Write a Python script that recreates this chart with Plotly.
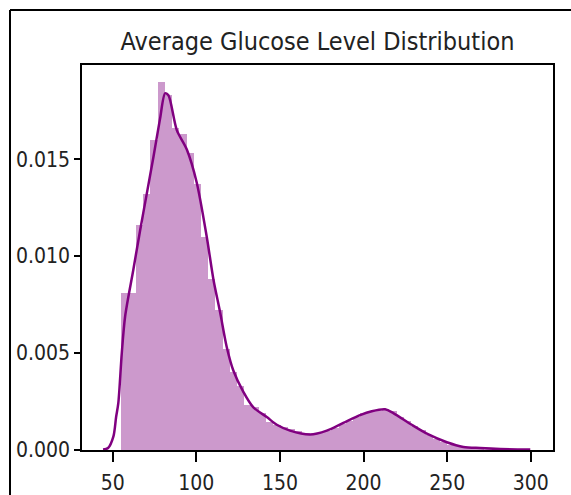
import plotly.graph_objects as go

# Histogram (density) – 50 equal bins from 55.12 to 271.74
bin_start = 55.12
bin_end = 271.74
bar_density = [
    0.0081, 0.0081, 0.0116, 0.0132, 0.0160, 0.0190, 0.0183, 0.0166, 0.0163, 0.0153,
    0.0137, 0.0110, 0.0088, 0.0072, 0.0052, 0.0040, 0.0033, 0.0023, 0.0022, 0.0019,
    0.00145, 0.0013, 0.0012, 0.0011, 0.0010, 0.0009, 0.0008, 0.0009, 0.0010, 0.00115,
    0.00135, 0.0015, 0.0017, 0.0019, 0.0020, 0.0020, 0.0021, 0.0020, 0.0017, 0.0015,
    0.00125, 0.00105, 0.00078, 0.00057, 0.00041, 0.00028, 0.0002, 0.00015, 0.0001, 0.00008,
]

# KDE curve
kde_x = [44.2, 47.2, 50.4, 52.0, 53.3, 55.4, 57.4, 62.3, 66.3, 70.3, 74.3, 78.3, 81.3,
         83.3, 88.3, 94.3, 100.2, 106.2, 110.2, 114.2, 118.2, 122.1, 128.1, 134.1, 142.1,
         148.1, 156.0, 168.0, 178.0, 187.9, 197.9, 204.9, 212.9, 217.8, 228.8, 238.8,
         249.8, 259.7, 269.7, 281.8, 299.7]
kde_y = [0.00002, 0.0001, 0.0007, 0.0017, 0.0024, 0.0050, 0.0069, 0.0093, 0.0113, 0.0132,
         0.0151, 0.0171, 0.0184, 0.0183, 0.0165, 0.0155, 0.0138, 0.0110, 0.0088, 0.0071,
         0.0053, 0.0041, 0.0030, 0.0022, 0.0017, 0.0013, 0.0010, 0.0008, 0.0010, 0.0014,
         0.0018, 0.0020, 0.0021, 0.0019, 0.0013, 0.0008, 0.0004, 0.00016, 0.0001, 0.00005,
         0.00002]

x_ticks = [50, 100, 150, 200, 250, 300]
y_ticks = [0.000, 0.005, 0.010, 0.015]
title_text = "Average Glucose Level Distribution"

n_bins = len(bar_density)
width = (bin_end - bin_start) / n_bins
centers = [bin_start + width * (i + 0.5) for i in range(n_bins)]

FONT = "DejaVu Sans Condensed, Liberation Sans Narrow, sans-serif"

fig = go.Figure()
fig.add_trace(go.Bar(
    x=centers, y=bar_density, width=[width] * n_bins,
    marker=dict(color="rgba(128,0,128,0.4)", line=dict(width=0)),
    showlegend=False, hoverinfo="skip",
))
fig.add_trace(go.Scatter(
    x=kde_x, y=kde_y, mode="lines", line=dict(color="#800080", width=2.5, shape="spline",
                                               smoothing=0.8),
    showlegend=False, hoverinfo="skip",
))

W, H = 571, 495
ml, mr, mt, mb = 82, 18, 65, 45
pw, ph = W - ml - mr, H - mt - mb

fig.update_layout(
    width=W, height=H,
    margin=dict(l=ml, r=mr, t=mt, b=mb, autoexpand=False),
    paper_bgcolor="white", plot_bgcolor="white",
    bargap=0,
    title=dict(text=title_text, x=(ml + pw / 2) / W, xanchor="center",
               y=1 - 41 / H, yanchor="middle",
               font=dict(family=FONT, size=25, color="#222")),
    font=dict(family=FONT, size=21, color="#222"),
    xaxis=dict(range=[31.6, 313.3], tickvals=x_ticks, ticktext=[str(v) for v in x_ticks],
               automargin=False, ticklabelstandoff=3,
               showgrid=False, zeroline=False, showline=True, linecolor="black", linewidth=1.5,
               mirror=True, ticks="outside", ticklen=10, tickcolor="black", tickwidth=1.5),
    yaxis=dict(range=[0, 0.01986], tickvals=y_ticks, ticktext=[f"{v:.3f}" for v in y_ticks],
               automargin=False,
               showgrid=False, zeroline=False, showline=True, linecolor="black", linewidth=1.5,
               mirror=True, ticks="outside", ticklen=6, tickcolor="black", tickwidth=1.5),
)

# outer figure frame (left and top edges visible)
fig.add_shape(type="line", xref="paper", yref="paper",
              x0=(10 - ml) / pw, x1=(10 - ml) / pw, y0=-0.5, y1=1 + (mt - 10) / ph,
              line=dict(color="black", width=2))
fig.add_shape(type="line", xref="paper", yref="paper",
              x0=(10 - ml) / pw, x1=1.5, y0=1 + (mt - 10) / ph, y1=1 + (mt - 10) / ph,
              line=dict(color="black", width=2))

fig.write_html("out.html")
